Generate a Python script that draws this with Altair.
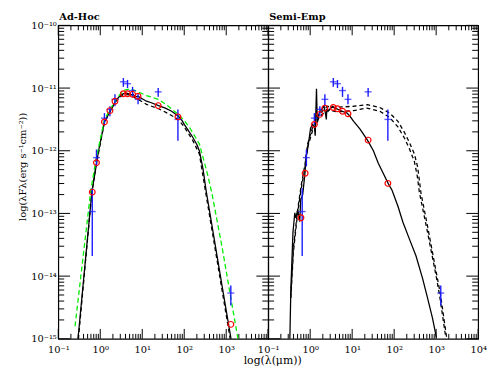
import altair as alt
import numpy as np
import pandas as pd

# ---------------- data (log10 values: x = log(lambda/um), y = log(lambda F_lambda)) ----------------
# observed photometry (blue crosses) - same in both panels
OBS_X  = [-0.19, -0.09, 0.10, 0.23, 0.35, 0.55, 0.65, 0.77, 0.90, 1.38, 1.85, 3.11]
OBS_Y  = [-12.97, -12.11, -11.48, -11.34, -11.18, -10.90, -10.93, -11.04, -11.18, -11.06, -11.50, -14.27]
OBS_LO = [-13.68, -12.25, -11.58, -11.45, -11.29, -10.98, -11.00, -11.14, -11.26, -11.14, -11.84, -14.47]
OBS_HI = [-12.60, -11.98, -11.40, -11.29, -11.10, -10.84, -10.87, -10.98, -11.10, -11.00, -11.34, -14.15]

# model photometry (red circles)
AH_MOD_X = [-0.19, -0.09, 0.10, 0.23, 0.35, 0.55, 0.65, 0.77, 0.90, 1.38, 1.85, 3.11]
AH_MOD_Y = [-12.66, -12.19, -11.54, -11.36, -11.21, -11.09, -11.09, -11.10, -11.13, -11.28, -11.46, -14.77]
SE_MOD_X = [-0.22, -0.12, 0.10, 0.23, 0.35, 0.55, 0.65, 0.77, 0.90, 1.38, 1.85]
SE_MOD_Y = [-13.07, -12.36, -11.58, -11.42, -11.32, -11.31, -11.33, -11.37, -11.41, -11.83, -12.52]

# Ad-Hoc models
AH_SOLID_X = [-0.53, -0.20, -0.085, -0.04, 0.10, 0.244, 0.36, 0.45, 0.55, 0.62, 0.667, 0.73, 0.78, 0.84,
              0.90, 1.00, 1.10, 1.20, 1.39, 1.55, 1.70, 1.86, 1.95, 2.00, 2.10, 2.20, 2.30, 2.36, 2.45,
              2.52, 2.70, 2.90, 3.115]
AH_SOLID_Y = [-15.0, -12.66, -12.19, -12.0, -11.54, -11.36, -11.21, -11.14, -11.09, -11.08, -11.09, -11.11,
              -11.10, -11.14, -11.13, -11.17, -11.21, -11.23, -11.28, -11.32, -11.37, -11.45, -11.52, -11.58,
              -11.68, -11.78, -11.90, -12.00, -12.30, -12.63, -13.35, -14.15, -15.0]
AH_DASH_X = [-0.52, -0.20, -0.085, 0.10, 0.244, 0.36, 0.55, 0.70, 0.90, 1.10, 1.39, 1.60, 1.86, 2.00, 2.20,
             2.36, 2.50, 2.70, 2.90, 3.095]
AH_DASH_Y = [-15.0, -12.66, -12.19, -11.54, -11.36, -11.22, -11.10, -11.11, -11.18, -11.26, -11.33, -11.40,
             -11.50, -11.62, -11.83, -12.05, -12.62, -13.42, -14.22, -15.0]
AH_GREEN_X = [-0.60, -0.225, -0.10, 0.10, 0.244, 0.40, 0.55, 0.71, 0.90, 1.10, 1.39, 1.60, 1.86, 2.00, 2.12,
              2.36, 2.55, 2.66, 2.90, 3.10, 3.28]
AH_GREEN_Y = [-14.80, -12.63, -12.14, -11.50, -11.33, -11.16, -11.04, -11.01, -11.06, -11.12, -11.18, -11.28,
              -11.42, -11.52, -11.62, -11.89, -12.36, -12.68, -13.53, -14.31, -15.0]

# Semi-Emp models
SE_SOLID_X = [-0.484, -0.46, -0.41, -0.366, -0.343, -0.296, -0.249, -0.225, -0.178, -0.124, -0.101, -0.061,
              -0.021, 0.009, 0.056, 0.10, 0.12, 0.15, 0.17, 0.214, 0.291, 0.331, 0.362, 0.385, 0.395, 0.425,
              0.526, 0.596, 0.761, 0.878, 0.948, 1.035, 1.183, 1.364, 1.505, 1.622, 1.739, 1.857, 1.95,
              2.092, 2.209, 2.364, 2.521, 2.678, 2.796, 2.913, 3.007]
SE_SOLID_Y = [-15.0, -14.2, -13.3, -12.99, -13.07, -12.94, -13.13, -12.78, -12.70, -12.36, -12.11, -11.97,
              -11.79, -11.64, -11.58, -11.62, -11.76, -11.01, -11.55, -11.40, -11.32, -11.29, -11.40, -11.50,
              -11.33, -11.37, -11.29, -11.32, -11.37, -11.40, -11.45, -11.53, -11.65, -11.83, -12.00, -12.20,
              -12.36, -12.52, -12.63, -12.89, -13.14, -13.41, -13.68, -14.04, -14.35, -14.67, -14.98]
SE_D1_X = [-0.46, -0.40, -0.30, -0.218, -0.12, -0.06, 0.056, 0.214, 0.33, 0.408, 0.565, 0.80, 1.035, 1.364,
           1.66, 1.895, 2.09, 2.247, 2.364, 2.481, 2.56, 2.60, 2.64, 2.80, 3.00, 3.10, 3.25]
SE_D1_Y = [-14.30, -13.55, -12.95, -12.57, -12.20, -11.89, -11.63, -11.42, -11.34, -11.29, -11.31, -11.30,
           -11.29, -11.265, -11.31, -11.40, -11.53, -11.71, -11.87, -12.05, -12.26, -12.47, -12.68, -13.22,
           -13.93, -14.28, -14.98]
SE_D2_X = [-0.46, -0.40, -0.30, -0.218, -0.12, -0.06, 0.056, 0.214, 0.33, 0.408, 0.643, 1.035, 1.347, 1.66,
           1.895, 2.09, 2.247, 2.364, 2.481, 2.55, 2.60, 2.78, 3.00, 3.08, 3.23]
SE_D2_Y = [-14.35, -13.62, -13.0, -12.62, -12.25, -11.94, -11.68, -11.47, -11.39, -11.35, -11.38, -11.36,
           -11.32, -11.37, -11.47, -11.62, -11.80, -11.97, -12.17, -12.40, -12.66, -13.25, -14.0, -14.3, -14.98]

X_TICK_VALUES = [-1, 0, 1, 2, 3, 4]
X_TICK_LABELS = ["10⁻¹", "10⁰", "10¹", "10²", "10³", "10⁴"]
Y_TICK_VALUES = [-15, -14, -13, -12, -11, -10]
Y_TICK_LABELS = ["10⁻¹⁵", "10⁻¹⁴", "10⁻¹³", "10⁻¹²", "10⁻¹¹", "10⁻¹⁰"]

# ---------------- styling ----------------
W, H = 213, 318
FONT = "DejaVu Serif"
BLUE = "#1a1aff"
RED = "#ff0000"
GREEN = "#00ee00"

xscale = alt.Scale(domain=[-1, 4], nice=False, zero=False)
yscale = alt.Scale(domain=[-15, -10], nice=False, zero=False)


def label_expr(values, labels):
    s = "''"
    for v, l in reversed(list(zip(values, labels))):
        s = f"(datum.value == {v} ? '{l}' : {s})"
    return s


def x_axis(values, with_title):
    kw = dict(values=values, labelExpr=label_expr(X_TICK_VALUES, X_TICK_LABELS), ticks=False,
              domain=False, grid=False, labelFont=FONT, labelFontSize=10, labelPadding=6,
              labelColor="black", labelFlush=False, labelOverlap=False)
    if with_title:
        kw.update(title="log(λ(μm))", titleFont=FONT, titleFontSize=11, titleFontWeight="normal",
                  titleColor="black", titleX=217, titleY=22, titleAlign="center", titleBaseline="middle")
    else:
        kw.update(title=None)
    return alt.Axis(**kw)


def y_axis():
    return alt.Axis(values=Y_TICK_VALUES, labelExpr=label_expr(Y_TICK_VALUES, Y_TICK_LABELS), ticks=False,
                    domain=False, grid=False, labelFont=FONT, labelFontSize=10, labelPadding=2,
                    labelColor="black", labelFlush=False, labelOverlap=False,
                    title="log(λFλ(erg s⁻¹cm⁻²))", titleFont=FONT, titleFontSize=10,
                    titleFontWeight="normal", titleColor="black", titleX=-36, titleY=143,
                    titleAlign="center", titleBaseline="middle", titleAngle=270)


def panel(title, lines, mod_x, mod_y, left, xvals):
    xa = x_axis(xvals, left)
    ya = y_axis() if left else None

    def X(f):
        return alt.X(f, type="quantitative", scale=xscale, axis=xa)

    def Y(f):
        if ya is None:
            return alt.Y(f, type="quantitative", scale=yscale, axis=None)
        return alt.Y(f, type="quantitative", scale=yscale, axis=ya)

    layers = []
    # frame ticks (inward)
    xmaj = pd.DataFrame({"v": X_TICK_VALUES})
    xmin = pd.DataFrame({"v": [d + np.log10(k) for d in range(-1, 4) for k in range(2, 10)]})
    ymaj = pd.DataFrame({"v": Y_TICK_VALUES})
    ymin = pd.DataFrame({"v": [d + np.log10(k) for d in range(-15, -10) for k in range(2, 10)]})
    for df, ln in ((xmaj, 10), (xmin, 5)):
        layers.append(alt.Chart(df).mark_rule(color="black", strokeWidth=1).encode(
            x=X("v"), y=alt.value(H), y2=alt.value(H - ln)))
        layers.append(alt.Chart(df).mark_rule(color="black", strokeWidth=1).encode(
            x=X("v"), y=alt.value(0), y2=alt.value(ln)))
    for df, ln in ((ymaj, 12), (ymin, 6)):
        layers.append(alt.Chart(df).mark_rule(color="black", strokeWidth=1).encode(
            y=Y("v"), x=alt.value(0), x2=alt.value(ln)))
        layers.append(alt.Chart(df).mark_rule(color="black", strokeWidth=1).encode(
            y=Y("v"), x=alt.value(W), x2=alt.value(W - ln)))

    for lx, ly, color, dash in lines:
        df = pd.DataFrame({"x": lx, "y": ly})
        kw = dict(color=color, strokeWidth=1.3, clip=True)
        if dash:
            kw["strokeDash"] = dash
        layers.append(alt.Chart(df).mark_line(**kw).encode(x=X("x"), y=Y("y")))

    obs = pd.DataFrame({"x": OBS_X, "y": OBS_Y, "lo": OBS_LO, "hi": OBS_HI})
    layers.append(alt.Chart(obs).mark_rule(color=BLUE, strokeWidth=1.4).encode(
        x=X("x"), y=Y("lo"), y2=alt.Y2("hi")))
    layers.append(alt.Chart(obs).mark_tick(orient="horizontal", color=BLUE, size=7, thickness=1.4).encode(
        x=X("x"), y=Y("y")))

    mod = pd.DataFrame({"x": mod_x, "y": mod_y})
    layers.append(alt.Chart(mod).mark_point(shape="circle", filled=False, color=RED, size=34,
                                            strokeWidth=1.2, opacity=1).encode(x=X("x"), y=Y("y")))

    # panel title as text just above the frame
    layers.append(alt.Chart(pd.DataFrame({"t": [title]})).mark_text(
        align="left", baseline="alphabetic", font=FONT, fontSize=10, fontWeight="bold", color="black"
    ).encode(text="t:N", x=alt.value(1), y=alt.value(-5)))

    return alt.layer(*layers).properties(width=W, height=H)


left = panel("Ad-Hoc",
             [(AH_SOLID_X, AH_SOLID_Y, "black", None),
              (AH_DASH_X, AH_DASH_Y, "black", [4, 3]),
              (AH_GREEN_X, AH_GREEN_Y, GREEN, [5, 3])],
             AH_MOD_X, AH_MOD_Y, True, [-1, 0, 1, 2, 3])
right = panel("Semi-Emp",
              [(SE_SOLID_X, SE_SOLID_Y, "black", None),
               (SE_D1_X, SE_D1_Y, "black", [4, 3]),
               (SE_D2_X, SE_D2_Y, "black", [4, 3])],
              SE_MOD_X, SE_MOD_Y, False, [-1, 0, 1, 2, 3, 4])

chart = alt.hconcat(left, right, spacing=0, bounds="flush").properties(
    padding={"left": 9, "top": 1, "right": 0, "bottom": 0},
    background="white",
).configure_view(stroke="black", strokeWidth=1.2)

chart.save("out.html", embed_options={"renderer": "svg", "actions": False})
